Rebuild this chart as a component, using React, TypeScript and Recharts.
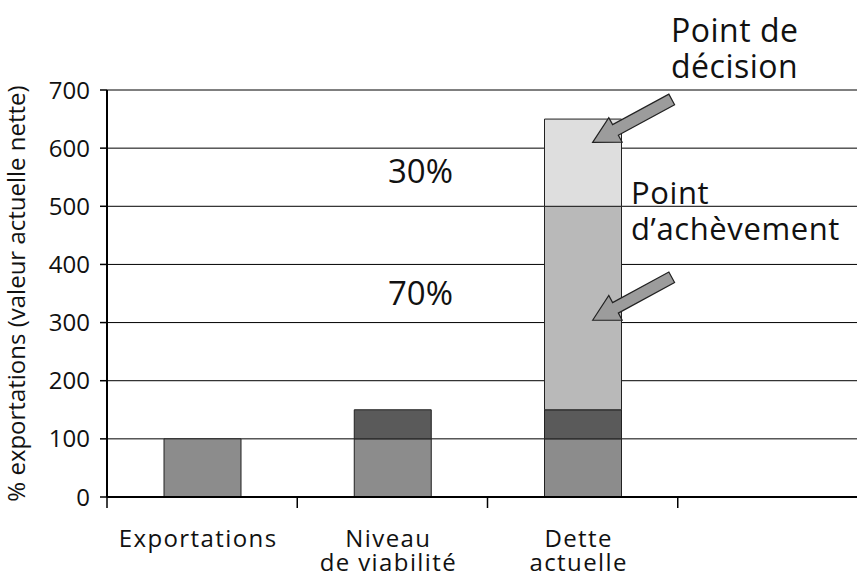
import { BarChart, Bar, XAxis, YAxis, CartesianGrid, ReferenceDot } from 'recharts'

const categories = ['Exportations', 'Niveau\nde viabilité', 'Dette\nactuelle', '']
const baseValues = [100, 100, 100, 0]
const surplusValues = [0, 50, 50, 0]
const completionValues = [0, 0, 350, 0]
const decisionValues = [0, 0, 150, 0]
const yTicks = [0, 100, 200, 300, 400, 500, 600, 700]
// arrow tips on the "Dette actuelle" bar
const arrowTips = [610, 304]

const data = categories.map((name, i) => ({
  name,
  base: baseValues[i],
  surplus: surplusValues[i],
  completion: completionValues[i],
  decision: decisionValues[i],
}))

const W = 870
const H = 579
const LEFT = 107
const RIGHT = 2
const BAND = (W - LEFT - RIGHT) / categories.length
const FONT = '"Open Sans", "Liberation Sans", sans-serif'

// eslint-disable-next-line @typescript-eslint/no-explicit-any
function CategoryTick({ x, y, payload }: any) {
  const lines = String(payload.value).split('\n')
  return (
    <g>
      <line x1={x - BAND / 2} x2={x - BAND / 2} y1={y} y2={y + 11} stroke="#000" strokeWidth={1.5} />
      <text x={x - 4} y={y + 50} textAnchor="middle" fontSize={24} letterSpacing={1.4} fill="#111" fontFamily={FONT}>
        {lines.map((l, i) => (
          <tspan key={i} x={x - 4} dy={i === 0 ? 0 : 24}>{l}</tspan>
        ))}
      </text>
    </g>
  )
}

// eslint-disable-next-line @typescript-eslint/no-explicit-any
function YLabel({ viewBox }: any) {
  const cy = viewBox.y + viewBox.height / 2
  return (
    <text x={25} y={cy} transform={`rotate(-90 25 ${cy})`} textAnchor="middle" fontSize={24} fill="#111" fontFamily={FONT}>
      % exportations (valeur actuelle nette)
    </text>
  )
}

// arrow drawn with its tip at the anchor, tail going up-right
// eslint-disable-next-line @typescript-eslint/no-explicit-any
function Arrow({ cx, cy }: any) {
  if (cx == null || cy == null) return null
  const tx = cx + 10
  const L = 90, hl = 26, hw = 14, sw = 6
  const pts = [[0, 0], [hl, -hw], [hl, -sw], [L, -sw], [L, sw], [hl, sw], [hl, hw]]
  return (
    <polygon
      points={pts.map(p => p.join(',')).join(' ')}
      transform={`translate(${tx} ${cy}) rotate(-28.5)`}
      fill="#9c9c9c"
      stroke="#222"
      strokeWidth={1.2}
    />
  )
}

export default function App() {
  return (
    <div style={{ position: 'absolute', left: 0, top: 0, width: 857, height: 579, overflow: 'hidden', background: '#fff', fontFamily: FONT }}>
      <BarChart width={W} height={H} data={data} margin={{ top: 90, right: RIGHT, bottom: 52, left: 0 }} barSize={77}>
        <CartesianGrid vertical={false} stroke="#000" strokeWidth={1} />
        <XAxis
          dataKey="name"
          interval={0}
          height={30}
          tick={<CategoryTick />}
          tickLine={false}
          tickSize={0}
          tickMargin={0}
          axisLine={{ stroke: '#000', strokeWidth: 2 }}
        />
        <YAxis
          width={LEFT}
          domain={[0, 700]}
          ticks={yTicks}
          tickSize={7}
          tickMargin={10}
          tick={{ fill: '#111', fontSize: 24 }}
          tickLine={{ stroke: '#000', strokeWidth: 1.5 }}
          axisLine={{ stroke: '#000', strokeWidth: 2 }}
          label={{ content: <YLabel /> }}
        />
        <Bar dataKey="base" stackId="a" fill="#8c8c8c" stroke="#222" strokeWidth={1} isAnimationActive={false} />
        <Bar dataKey="surplus" stackId="a" fill="#5a5a5a" stroke="#222" strokeWidth={1} isAnimationActive={false} />
        <Bar dataKey="completion" stackId="a" fill="#b9b9b9" stroke="#222" strokeWidth={1} isAnimationActive={false} />
        <Bar dataKey="decision" stackId="a" fill="#dedede" stroke="#222" strokeWidth={1} isAnimationActive={false} />
        {arrowTips.map(v => (
          <ReferenceDot key={v} x={categories[2]} y={v} r={0} shape={<Arrow />} ifOverflow="visible" />
        ))}
      </BarChart>
      <svg width={857} height={579} style={{ position: 'absolute', left: 0, top: 0, pointerEvents: 'none' }} fontFamily={FONT} fill="#111">
        <text x={388} y={183} fontSize={33}>30%</text>
        <text x={388} y={305} fontSize={33}>70%</text>
        <text x={671} y={42} fontSize={32} letterSpacing={0.5}>Point de</text>
        <text x={671} y={78} fontSize={32} letterSpacing={0.5}>décision</text>
        <text x={631} y={204} fontSize={31} letterSpacing={0.6}>Point</text>
        <text x={631} y={240} fontSize={31} letterSpacing={0.6}>d’achèvement</text>
      </svg>
    </div>
  )
}
